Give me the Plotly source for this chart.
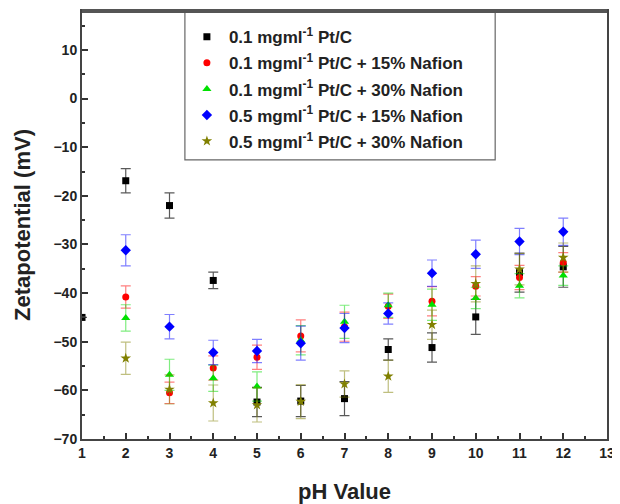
import plotly.graph_objects as go

ph = [1, 2, 3, 4, 5, 6, 7, 8, 9, 10, 11, 12]
ph_rest = [2, 3, 4, 5, 6, 7, 8, 9, 10, 11, 12]

black_y = [-45.0, -16.9, -22.0, -37.4, -62.4, -62.2, -61.7, -51.6, -51.2, -44.9, -35.8, -34.6]
black_e = [0.0, 2.5, 2.6, 1.7, 3.0, 3.2, 3.5, 2.2, 3.0, 3.6, 4.0, 4.2]

red_y = [-40.8, -60.5, -55.4, -53.2, -48.8, -46.9, -42.7, -41.7, -38.6, -36.8, -33.7]
red_e = [2.3, 2.2, 2.5, 2.5, 3.3, 3.0, 2.5, 3.0, 2.0, 2.5, 2.0]

green_y = [-45.1, -56.8, -57.5, -59.2, -49.7, -45.9, -42.5, -42.4, -41.0, -38.5, -36.4]
green_e = [2.7, 3.2, 2.7, 3.0, 3.0, 3.4, 2.5, 3.2, 2.2, 2.5, 2.0]

blue_y = [-31.2, -46.9, -52.2, -51.9, -50.3, -47.2, -44.2, -35.9, -32.0, -29.4, -27.4]
blue_e = [3.2, 2.5, 2.5, 2.4, 3.5, 3.0, 2.2, 2.7, 2.9, 2.7, 2.8]

olive_y = [-53.4, -59.8, -62.6, -63.0, -62.3, -58.7, -57.1, -46.5, -38.1, -35.1, -32.7]
olive_e = [3.3, 3.0, 3.7, 3.5, 3.5, 2.7, 3.3, 3.0, 3.7, 3.2, 3.0]

names = [
    "0.1 mgml<sup>-1</sup> Pt/C",
    "0.1 mgml<sup>-1</sup> Pt/C + 15% Nafion",
    "0.1 mgml<sup>-1</sup> Pt/C + 30% Nafion",
    "0.5 mgml<sup>-1</sup> Pt/C + 15% Nafion",
    "0.5 mgml<sup>-1</sup> Pt/C + 30% Nafion",
]
xs = [ph, ph_rest, ph_rest, ph_rest, ph_rest]
series = [black_y, red_y, green_y, blue_y, olive_y]
errors = [black_e, red_e, green_e, blue_e, olive_e]
colors = ["#000000", "#ff0000", "#00e000", "#0000ff", "#808000"]
err_colors = ["rgba(0,0,0,0.65)", "rgba(255,0,0,0.5)", "rgba(0,220,0,0.5)",
              "rgba(0,0,255,0.5)", "rgba(128,128,0,0.5)"]
symbols = ["square", "circle", "triangle-up", "diamond", "star"]
sizes = [7, 7, 8, 8, 8]

fig = go.Figure()
for i in range(5):
    fig.add_trace(go.Scatter(
        x=xs[i], y=series[i], mode="markers", name=names[i],
        legendgroup=str(i),
        marker=dict(symbol=symbols[i], color=colors[i], size=sizes[i]),
        error_y=dict(type="data", array=errors[i], visible=True,
                     color=err_colors[i], thickness=1.2, width=5),
    ))

# legend frame
fig.add_shape(type="rect", xref="paper", yref="paper",
              x0=0.196, x1=0.787, y0=0.652, y1=1.0,
              line=dict(color="#666", width=1.2), fillcolor="rgba(0,0,0,0)", layer="above")
# thicker top frame line
fig.add_shape(type="line", xref="paper", yref="paper",
              x0=0, x1=1, y0=1.0, y1=1.0,
              line=dict(color="#555", width=4), layer="above")

font = "Arial, 'Liberation Sans', sans-serif"
fig.update_layout(
    width=612, height=496,
    margin=dict(l=74, r=13, t=3, b=65),
    plot_bgcolor="white", paper_bgcolor="white",
    font=dict(family=font, color="#222"),
    showlegend=True,
    legend=dict(
        x=0.196, y=0.981, xanchor="left", yanchor="top",
        borderwidth=0, bgcolor="rgba(0,0,0,0)",
        font=dict(family=font, size=17, color="#222", weight="bold"),
        tracegroupgap=1, itemwidth=34,
    ),
    xaxis=dict(
        range=[1, 13], tickvals=list(range(1, 14)),
        showgrid=False, zeroline=False, automargin=False,
        showline=True, linecolor="#444", linewidth=2, mirror=True,
        ticks="inside", ticklen=6, tickwidth=2, tickcolor="#333",
        minor=dict(ticks="inside", ticklen=3, tickwidth=2, tickcolor="#333", dtick=0.5),
        tickfont=dict(size=14, weight="bold", family=font),
        title=dict(text="pH Value", font=dict(size=22, weight="bold", family=font), standoff=24),
    ),
    yaxis=dict(
        range=[-70, 18], tickvals=list(range(-70, 11, 10)),
        showgrid=False, zeroline=False, automargin=False,
        showline=True, linecolor="#444", linewidth=2, mirror=True,
        ticks="inside", ticklen=6, tickwidth=2, tickcolor="#333",
        minor=dict(ticks="inside", ticklen=3, tickwidth=2, tickcolor="#333", dtick=5),
        tickfont=dict(size=14, weight="bold", family=font),
        title=dict(text="Zetapotential (mV)", font=dict(size=22, weight="bold", family=font), standoff=17),
    ),
)

fig.write_html("out.html")
